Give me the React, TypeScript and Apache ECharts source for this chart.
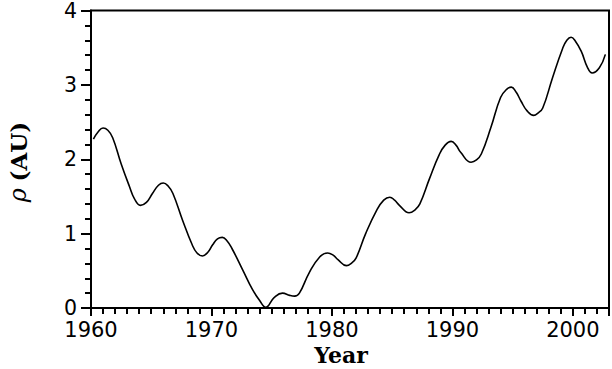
import React, { useEffect, useRef } from "react";
import * as echarts from "echarts";

const years = [
  1960.2, 1960.6, 1961.0, 1961.4, 1961.8, 1962.5, 1963.2, 1963.6, 1964.1, 1964.6,
  1965.1, 1965.6, 1966.0, 1966.4, 1966.8, 1967.6, 1968.4, 1968.8, 1969.25, 1969.7,
  1970.1, 1970.5, 1970.9, 1971.3, 1971.7, 1972.6, 1973.4, 1974.0, 1974.5, 1975.2,
  1975.9, 1976.5, 1976.9, 1977.3, 1978.1, 1979.0, 1979.65, 1980.1, 1980.5, 1981.2,
  1981.6, 1982.0, 1982.8, 1983.7, 1984.3, 1984.8, 1985.2, 1985.6, 1986.4, 1986.9,
  1987.3, 1988.1, 1988.9, 1989.4, 1989.9, 1990.3, 1990.7, 1991.55, 1992.0, 1992.4,
  1993.2, 1994.0, 1994.5, 1994.9, 1995.3, 1995.7, 1996.2, 1996.75, 1997.1, 1997.5,
  1998.3, 1999.15, 1999.5, 1999.85, 2000.2, 2000.7, 2001.2, 2001.6, 2002.2, 2002.7,
];

const rho = [
  2.27, 2.37, 2.42, 2.39, 2.29, 1.94, 1.63, 1.47, 1.38, 1.42,
  1.54, 1.65, 1.68, 1.64, 1.54, 1.18, 0.85, 0.74, 0.70, 0.75,
  0.85, 0.93, 0.95, 0.90, 0.80, 0.51, 0.25, 0.10, 0.01, 0.14,
  0.20, 0.17, 0.16, 0.20, 0.47, 0.69, 0.74, 0.71, 0.65, 0.57,
  0.60, 0.67, 1.00, 1.31, 1.45, 1.49, 1.45, 1.38, 1.28, 1.32,
  1.40, 1.74, 2.06, 2.19, 2.24, 2.19, 2.09, 1.96, 1.99, 2.07,
  2.43, 2.83, 2.94, 2.97, 2.90, 2.78, 2.65, 2.59, 2.62, 2.69,
  3.09, 3.49, 3.60, 3.64, 3.59, 3.45, 3.24, 3.16, 3.23, 3.41,
];

const xMin = 1960;
const xMax = 2003;
const yMin = 0;
const yMax = 4;
const xTitle = "Year";
const yTitleSymbol = "ρ";
const yTitleUnit = "(AU)";

export default function App() {
  const ref = useRef<HTMLDivElement>(null);
  useEffect(() => {
    if (!ref.current) return;
    const chart = echarts.init(ref.current, null, { renderer: "svg" });
    const labelFont = {
      fontFamily: "DejaVu Sans",
      fontSize: 21,
      lineHeight: 16,
      color: "#000",
    };
    chart.setOption({
      animation: false,
      backgroundColor: "#fff",
      grid: {
        left: 91,
        right: 2,
        top: 8,
        bottom: 61,
        show: true,
        borderColor: "#000",
        borderWidth: 2,
        backgroundColor: "transparent",
      },
      xAxis: [
        {
          type: "value",
          min: xMin,
          max: xMax,
          interval: 1,
          position: "bottom",
          axisLine: { show: true, onZero: false, lineStyle: { color: "#000", width: 2 } },
          axisTick: { show: true, inside: false, length: 6, lineStyle: { color: "#000", width: 2 } },
          axisLabel: {
            ...labelFont,
            margin: 14,
            formatter: (v: number) => (v % 10 === 0 ? String(v) : ""),
          },
          splitLine: { show: false },
        },
        {
          type: "value",
          min: xMin,
          max: xMax,
          interval: 10,
          position: "bottom",
          axisLine: { show: false, onZero: false },
          axisTick: { show: true, inside: false, length: 8, lineStyle: { color: "#000", width: 2 } },
          axisLabel: { show: false },
          splitLine: { show: false },
        },
      ],
      yAxis: {
        type: "value",
        min: yMin,
        max: yMax,
        interval: 1,
        axisLine: { show: true, onZero: false, lineStyle: { color: "#000", width: 2 } },
        axisTick: { show: true, inside: false, length: 10, lineStyle: { color: "#000", width: 2 } },
        minorTick: { show: true, splitNumber: 5, length: 6, lineStyle: { color: "#000", width: 2 } },
        axisLabel: { ...labelFont, fontSize: 20.5, margin: 14 },
        splitLine: { show: false },
      },
      series: [
        {
          type: "line",
          xAxisIndex: 0,
          data: years.map((y, i) => [y, rho[i]]),
          smooth: 0.45,
          showSymbol: false,
          lineStyle: { color: "#000", width: 1.6 },
        },
      ],
      graphic: [
        {
          type: "text",
          x: 341,
          y: 355,
          style: {
            text: xTitle,
            fontFamily: "DejaVu Serif",
            fontWeight: "bold",
            fontSize: 22,
            fill: "#000",
            textAlign: "center",
            textVerticalAlign: "middle",
          },
        },
        {
          type: "text",
          x: 18,
          y: 162,
          rotation: Math.PI / 2,
          style: {
            text: "{a|" + yTitleSymbol + "}  {b|" + yTitleUnit + "}",
            textAlign: "center",
            textVerticalAlign: "middle",
            fill: "#000",
            rich: {
              a: {
                fontFamily: "DejaVu Serif",
                fontStyle: "italic",
                fontSize: 24,
                fill: "#000",
              },
              b: {
                fontFamily: "DejaVu Serif",
                fontWeight: "bold",
                fontSize: 23,
                fill: "#000",
              },
            },
          },
        },
      ],
    });
    return () => chart.dispose();
  }, []);
  return (
    <div
      ref={ref}
      style={{ position: "fixed", left: 0, top: 0, width: 612, height: 369, background: "#fff" }}
    />
  );
}
